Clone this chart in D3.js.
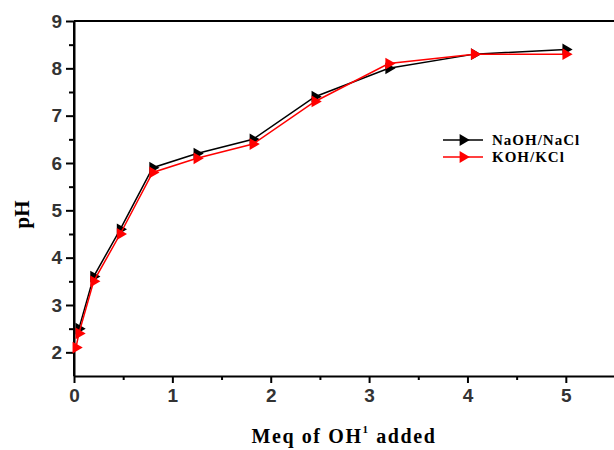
<!DOCTYPE html>
<html>
<head>
<meta charset="utf-8">
<script src="https://cdn.jsdelivr.net/npm/d3@7"></script>
<style>
	body { margin: 0; background: #fff; }
	svg { display: block; }
</style>
</head>
<body>
<div id="chart-area"></div>
<script>
// titration data
var meqNaOH = [0.05, 0.2, 0.47, 0.8, 1.25, 1.82, 2.45, 3.2, 4.07, 5.0];
var phNaOH = [2.5, 3.6, 4.6, 5.9, 6.2, 6.5, 7.4, 8.0, 8.3, 8.4];
var meqKOH = [0.02, 0.05, 0.2, 0.47, 0.8, 1.25, 1.82, 2.45, 3.2, 4.07, 5.0];
var phKOH = [2.1, 2.4, 3.5, 4.5, 5.8, 6.1, 6.4, 7.3, 8.1, 8.3, 8.3];

var seriesNames = ["NaOH/NaCl", "KOH/KCl"];
var seriesColors = ["#000000", "#ff0000"];

var xTicks = [0, 1, 2, 3, 4, 5];
var yTicks = [2, 3, 4, 5, 6, 7, 8, 9];

var margin = { left: 74, right: 0, top: 21, bottom: 74 };
var width = 614 - margin.left - margin.right;
var height = 450 - margin.top - margin.bottom;

var svg = d3.select("#chart-area")
	.append("svg")
	.attr("width", 614)
	.attr("height", 450);

var g = svg.append("g")
	.attr("transform", "translate(" + margin.left + ", " + margin.top + ")");

// Scales
var x = d3.scaleLinear()
	.domain([0, 5.5])
	.range([0, width + 1]);
var y = d3.scaleLinear()
	.domain([1.5, 9])
	.range([height, 0]);

// minor ticks
g.append("g")
	.attr("transform", "translate(0, " + height + ")")
	.call(d3.axisBottom(x).tickValues(d3.range(0.5, 5.5, 1)).tickSize(4).tickFormat(""))
	.call(function(a){ a.select(".domain").remove(); })
	.selectAll("line").attr("stroke-width", 2);
g.append("g")
	.call(d3.axisLeft(y).tickValues(d3.range(2.5, 9, 1)).tickSize(5).tickFormat(""))
	.call(function(a){ a.select(".domain").remove(); })
	.selectAll("line").attr("stroke-width", 2);

// major ticks
var fmt = d3.format("d");
var xAxisGroup = g.append("g")
	.attr("transform", "translate(0, " + height + ")")
	.call(d3.axisBottom(x).tickValues(xTicks).tickFormat(fmt).tickSize(7).tickPadding(6).tickSizeOuter(0));
var yAxisGroup = g.append("g")
	.call(d3.axisLeft(y).tickValues(yTicks).tickFormat(fmt).tickSize(8).tickPadding(4).tickSizeOuter(0));

[xAxisGroup, yAxisGroup].forEach(function(a){
	a.select(".domain").attr("stroke-width", 2);
	a.selectAll("line").attr("stroke-width", 2);
	a.selectAll("text")
		.attr("font-family", "'Liberation Sans', Arial, sans-serif")
		.attr("font-weight", "bold")
		.attr("font-size", 19)
		.attr("fill", "#333");
});
// extend the left axis down to the x axis
g.append("line")
	.attr("x1", 0).attr("x2", 0)
	.attr("y1", 0).attr("y2", height)
	.attr("stroke", "#000").attr("stroke-width", 2);

// top frame
g.append("line")
	.attr("x1", 0).attr("x2", width)
	.attr("y1", 0).attr("y2", 0)
	.attr("stroke", "#000").attr("stroke-width", 2);

// Labels
g.append("text")
	.attr("transform", "translate(-45, " + (height / 2 + 16) + ") rotate(-90)")
	.attr("text-anchor", "middle")
	.attr("font-family", "'Liberation Serif', 'Times New Roman', serif")
	.attr("font-weight", "bold")
	.attr("font-size", 21)
	.text("pH");

var xLabel = g.append("text")
	.attr("x", width / 2)
	.attr("y", height + 67)
	.attr("text-anchor", "middle")
	.attr("font-family", "'Liberation Serif', 'Times New Roman', serif")
	.attr("font-weight", "bold")
	.attr("font-size", 20)
	.attr("letter-spacing", 1.6);
xLabel.append("tspan").text("Meq of OH");
xLabel.append("tspan").attr("font-size", 11).attr("dy", -10).text("1");
xLabel.append("tspan").attr("dy", 10).text(" added");

// Series
var triangle = d3.symbol().type(d3.symbolTriangle).size(60);
var line = d3.line()
	.x(function(d){ return x(d[0]); })
	.y(function(d){ return y(d[1]); });

var series = [
	d3.zip(meqNaOH, phNaOH),
	d3.zip(meqKOH, phKOH)
];

series.forEach(function(data, i){
	g.append("path")
		.datum(data)
		.attr("fill", "none")
		.attr("stroke", seriesColors[i])
		.attr("stroke-width", 1.5)
		.attr("d", line);

	g.selectAll(".pt" + i)
		.data(data)
		.enter()
		.append("path")
		.attr("class", "pt" + i)
		.attr("d", triangle)
		.attr("fill", seriesColors[i])
		.attr("transform", function(d){
			return "translate(" + x(d[0]) + ", " + y(d[1]) + ") rotate(90)";
		});
});

// Legend
var legend = svg.append("g")
	.attr("transform", "translate(443, 140)");

seriesNames.forEach(function(name, i){
	var row = legend.append("g")
		.attr("transform", "translate(0, " + i * 17 + ")");
	row.append("line")
		.attr("x1", 0).attr("x2", 40)
		.attr("stroke", seriesColors[i])
		.attr("stroke-width", 1.5);
	row.append("path")
		.attr("d", triangle)
		.attr("fill", seriesColors[i])
		.attr("transform", "translate(20, 0) rotate(90)");
	row.append("text")
		.attr("x", 49)
		.attr("y", 5)
		.attr("font-family", "'Liberation Serif', 'Times New Roman', serif")
		.attr("font-weight", "bold")
		.attr("font-size", 15)
		.attr("letter-spacing", 1)
		.text(name);
});
</script>
</body>
</html>
